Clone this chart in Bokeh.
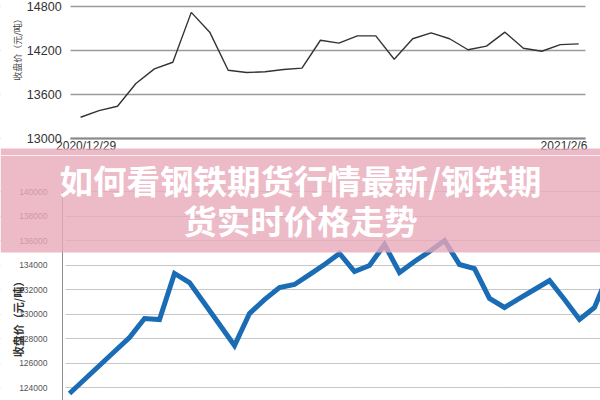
import math
from bokeh.plotting import figure
from bokeh.layouts import column
from bokeh.models import Range1d, FixedTicker, BoxAnnotation, Label, BasicTickFormatter
from bokeh.embed import file_html
from bokeh.resources import INLINE

# ---------------- data ----------------
top_dates = ["2020/12/29", "2021/2/6"]
top_close = [13290, 13380, 13440, 13750, 13950, 14040, 14720, 14450, 13930, 13900,
             13910, 13940, 13960, 14340, 14300, 14400, 14400, 14080, 14360, 14440,
             14360, 14210, 14260, 14450, 14230, 14190, 14280, 14290]
top_yticks = [13000, 13600, 14200, 14800]

bottom_close = [123510, 124650, 125800, 126940, 128080, 129630, 129550, 133310, 132570, 130860,
                129140, 127430, 130040, 131180, 132160, 132410, 133220, 134040, 134940, 133470,
                133960, 135670, 133390, 134290, 135100, 136000, 134040, 133710, 131270, 130530,
                131270, 132000, 132730, 131180, 129550, 130530, 133470]
bottom_yticks = [124000, 126000, 128000, 130000, 132000, 134000, 136000, 138000, 140000]

y_label = "收盘价（元/吨）"
banner_line1 = "如何看钢铁期货行情最新/钢铁期"
banner_line2 = "货实时价格走势"

W = 600
H_TOP = 155
H_BOT = 245
PINK = "#e8a9ba"
PINK_ALPHA = 0.8

# ---------------- top chart ----------------
xt = list(range(len(top_close)))
top_x0, top_x1 = -0.54, 27.37
p1 = figure(width=W, height=H_TOP, output_backend="svg", toolbar_location=None,
            x_range=Range1d(-4.34, 28.18), y_range=Range1d(12768, 14882),
            min_border_left=0, min_border_right=0, min_border_top=0, min_border_bottom=0)
p1.outline_line_color = None
p1.background_fill_color = "white"

p1.xgrid.visible = False
p1.ygrid.ticker = FixedTicker(ticks=top_yticks)
p1.ygrid.grid_line_color = "#9a9a9a"
p1.ygrid.grid_line_width = 1.5
# white masks so grid lines span only the plotting area
p1.add_layout(BoxAnnotation(left=0, right=70, left_units="canvas", right_units="canvas",
                            fill_color="white", fill_alpha=1, line_color=None, level="underlay"))
p1.add_layout(BoxAnnotation(left=585, right=W, left_units="canvas", right_units="canvas",
                            fill_color="white", fill_alpha=1, line_color=None, level="underlay"))

p1.line(xt, top_close, line_color="#333333", line_width=1.4)

p1.yaxis.fixed_location = top_x0
p1.yaxis.ticker = FixedTicker(ticks=top_yticks)
p1.yaxis.axis_line_color = None
p1.yaxis.major_tick_line_color = None
p1.yaxis.minor_tick_line_color = None
p1.yaxis.major_label_standoff = 3
p1.yaxis.major_label_text_font = "Liberation Sans"
p1.yaxis.major_label_text_font_size = "12.5px"
p1.yaxis.major_label_text_color = "#333333"

p1.xaxis.fixed_location = 13000
p1.xaxis.bounds = (top_x0, top_x1)
p1.xaxis.ticker = FixedTicker(ticks=[0.3, 26.2])
p1.xaxis.major_label_overrides = {0.3: top_dates[0], 26.2: top_dates[1]}
p1.xaxis.axis_line_color = "#8a8a8a"
p1.xaxis.axis_line_width = 2
p1.xaxis.major_tick_line_color = None
p1.xaxis.minor_tick_line_color = None
p1.xaxis.major_label_standoff = -5
p1.xaxis.major_label_text_font = "Liberation Sans"
p1.xaxis.major_label_text_font_size = "12px"
p1.xaxis.major_label_text_color = "#333333"

p1.add_layout(Label(x=17, y=47, x_units="canvas", y_units="canvas", text=y_label,
                    angle=math.pi / 2, text_align="center", text_baseline="middle",
                    text_font="Noto Sans CJK SC", text_font_size="9px", text_color="#444444"))

# top strip of the pink banner
p1.add_layout(BoxAnnotation(left=0, right=W, top=148, bottom=H_TOP,
                            left_units="canvas", right_units="canvas",
                            top_units="canvas", bottom_units="canvas",
                            fill_color=PINK, fill_alpha=PINK_ALPHA, line_color=None))

# ---------------- bottom chart ----------------
xb = list(range(len(bottom_close)))
bot_x0 = -0.467
p2 = figure(width=W, height=H_BOT, output_backend="svg", toolbar_location=None,
            x_range=Range1d(-4.6, 35.4), y_range=Range1d(122939, 142939),
            x_axis_location=None,
            min_border_left=0, min_border_right=0, min_border_top=0, min_border_bottom=0)
p2.outline_line_color = None
p2.background_fill_color = "white"

p2.xgrid.visible = False
p2.ygrid.ticker = FixedTicker(ticks=bottom_yticks)
p2.ygrid.grid_line_color = "#8c8c8c"
p2.ygrid.grid_line_width = 1
p2.ygrid.grid_line_dash = "1 1"
p2.add_layout(BoxAnnotation(left=0, right=65, left_units="canvas", right_units="canvas",
                            fill_color="white", fill_alpha=1, line_color=None, level="underlay"))

p2.line(xb, bottom_close, line_color="#1a6db5", line_width=5, line_join="miter")

p2.yaxis.fixed_location = bot_x0
p2.yaxis.ticker = FixedTicker(ticks=bottom_yticks)
p2.yaxis.formatter = BasicTickFormatter(use_scientific=False)
p2.yaxis.bounds = (122939, 140000)
p2.yaxis.axis_line_color = "#8c8c8c"
p2.yaxis.axis_line_width = 1
p2.yaxis.major_tick_line_color = None
p2.yaxis.minor_tick_line_color = None
p2.yaxis.major_label_standoff = 9
p2.yaxis.major_label_text_font = "Liberation Sans"
p2.yaxis.major_label_text_font_size = "8.5px"
p2.yaxis.major_label_text_color = "#555555"

p2.add_layout(Label(x=17, y=161, x_units="canvas", y_units="canvas", text=y_label,
                    angle=math.pi / 2, text_align="center", text_baseline="middle",
                    text_font="Noto Sans CJK SC", text_font_size="11px", text_font_style="bold",
                    text_color="#333333"))

p2.add_layout(BoxAnnotation(left=0, right=W, top=0, bottom=97,
                            left_units="canvas", right_units="canvas",
                            top_units="canvas", bottom_units="canvas",
                            fill_color=PINK, fill_alpha=PINK_ALPHA, line_color=None))
for txt, yy in ((banner_line1, 24), (banner_line2, 64)):
    p2.add_layout(Label(x=300, y=yy, x_units="canvas", y_units="canvas", text=txt,
                        text_align="center", text_baseline="middle",
                        text_font="Noto Sans CJK SC", text_font_size="33.5px",
                        text_font_style="bold", text_color="white"))

layout = column(p1, p2, spacing=0)
open("out.html", "w").write(file_html(layout, INLINE))
